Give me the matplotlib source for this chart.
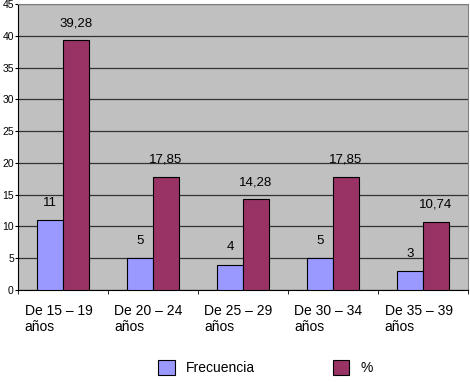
import numpy as np
import matplotlib
matplotlib.use("Agg")
import matplotlib.pyplot as plt

plt.rcParams["font.family"] = ["Liberation Sans", "DejaVu Sans"]

categorias = ["De 15 – 19\naños", "De 20 – 24\naños", "De 25 – 29\naños",
              "De 30 – 34\naños", "De 35 – 39\naños"]
frecuencia = [11, 5, 4, 5, 3]
porcentaje = [39.28, 17.85, 14.28, 17.85, 10.74]
etiquetas_pct = ["39,28", "17,85", "14,28", "17,85", "10,74"]

fig = plt.figure(figsize=(4.7, 3.82), dpi=100)
ax = fig.add_axes([18 / 470, 1 - 290 / 382, 450 / 470, 286 / 382])
ax.set_facecolor("#C0C0C0")

x = np.arange(len(categorias))
w = 1 / 3.5
b1 = ax.bar(x - w / 2, frecuencia, w, color="#9999FF", edgecolor="black",
            linewidth=0.8, label="Frecuencia", zorder=3)
b2 = ax.bar(x + w / 2, porcentaje, w, color="#993366", edgecolor="black",
            linewidth=0.8, label="%", zorder=3)

for rect, v in zip(b1, frecuencia):
    ax.annotate(str(v), (rect.get_x() + rect.get_width() / 2, rect.get_height()),
                xytext=(0, 8), textcoords="offset points", ha="center",
                va="bottom", fontsize=9.5)
for rect, t in zip(b2, etiquetas_pct):
    ax.annotate(t, (rect.get_x() + rect.get_width() / 2, rect.get_height()),
                xytext=(0, 8), textcoords="offset points", ha="center",
                va="bottom", fontsize=9.5)

ax.set_xlim(-0.5, len(categorias) - 0.5)
ax.set_ylim(0, 45)
ax.set_yticks(range(0, 46, 5))
ax.yaxis.grid(True, color="#333333", linewidth=0.9, zorder=0)
ax.tick_params(axis="y", labelsize=7.5, length=2, pad=1)

ax.set_xticks(x - 0.05)
ax.set_xticklabels(categorias, fontsize=10, multialignment="left")
ax.tick_params(axis="x", length=0, pad=10)
ax.set_xticks(np.arange(len(categorias) + 1) - 0.5, minor=True)
ax.tick_params(axis="x", which="minor", length=3)

for s in ["top", "right"]:
    ax.spines[s].set_color("#808080")
for s in ["left", "bottom"]:
    ax.spines[s].set_color("black")

fig.legend(handles=[b1, b2], labels=["Frecuencia", "%"], loc="lower center",
           bbox_to_anchor=(0.565, -0.015), ncol=2, frameon=False, fontsize=10,
           handlelength=1.2, handleheight=1.2, columnspacing=5.6)

fig.savefig("out.png", dpi=100)
